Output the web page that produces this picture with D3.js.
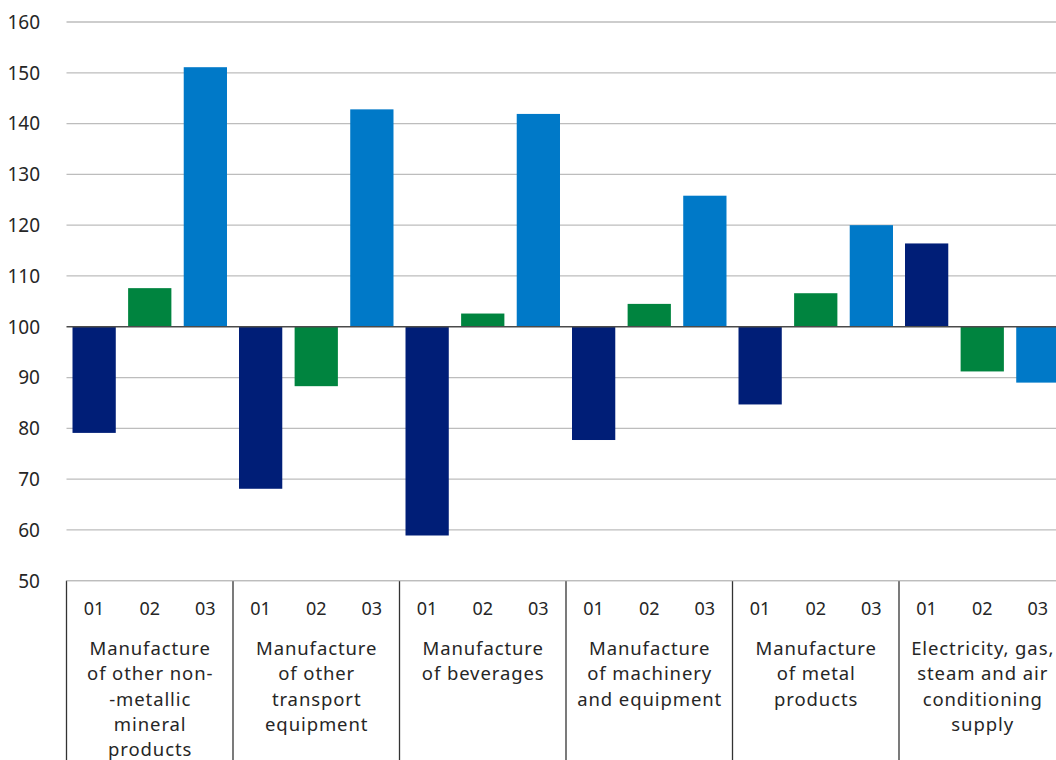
<!DOCTYPE html>
<html>
<head>
<meta charset="utf-8">
<script src="https://cdn.jsdelivr.net/npm/d3@7"></script>
<style>
  html, body { margin: 0; padding: 0; background: #fff; }
  svg { display: block; }
  text { font-family: "Noto Sans", "Open Sans", sans-serif; fill: #262626; }
</style>
</head>
<body>
<svg id="chart" width="1056" height="760"></svg>
<script>
// data
const categories = [
    ['Manufacture', 'of other non-', '-metallic', 'mineral', 'products'],
    ['Manufacture', 'of other', 'transport', 'equipment'],
    ['Manufacture', 'of beverages'],
    ['Manufacture', 'of machinery', 'and equipment'],
    ['Manufacture', 'of metal', 'products'],
    ['Electricity, gas,', 'steam and air', 'conditioning', 'supply']
]
const periods = ['01', '02', '03']
const values01 = [79.1, 68.1, 58.9, 77.7, 84.7, 116.4]
const values02 = [107.6, 88.3, 102.6, 104.5, 106.6, 91.2]
const values03 = [151.1, 142.8, 141.9, 125.8, 120.0, 89.0]
const yTicks = [50, 60, 70, 80, 90, 100, 110, 120, 130, 140, 150, 160]
const baseValue = 100

const colors = { '01': '#001e77', '02': '#00843f', '03': '#0079c8' }

const svg = d3.select('#chart')
const plotLeft = 66.5
const groupWidth = 166.5
const plotTop = 22
const plotBottom = 580.7

const x0 = d3.scaleBand()
    .domain(d3.range(categories.length))
    .range([plotLeft, plotLeft + groupWidth * categories.length])
    .padding(0)

const x1 = d3.scaleBand()
    .domain(periods)
    .range([0, x0.bandwidth()])
    .paddingInner(0.222)
    .paddingOuter(0.108)

const y = d3.scaleLinear().domain([50, 160]).range([plotBottom, plotTop])

const rows = []
categories.forEach((c, i) => {
    rows.push({ cat: i, period: '01', value: values01[i] })
    rows.push({ cat: i, period: '02', value: values02[i] })
    rows.push({ cat: i, period: '03', value: values03[i] })
})

// gridlines
const grid = svg.append('g').attr('class', 'grid')
grid.selectAll('line')
    .data(yTicks.filter(d => d !== baseValue))
    .join('line')
    .attr('x1', plotLeft)
    .attr('x2', 1056)
    .attr('y1', d => y(d))
    .attr('y2', d => y(d))
    .attr('stroke', '#bdbdbd')
    .attr('stroke-width', 1.3)

// y labels
svg.append('g')
    .selectAll('text')
    .data(yTicks)
    .join('text')
    .attr('x', 40)
    .attr('y', d => y(d))
    .attr('dy', '0.36em')
    .attr('text-anchor', 'end')
    .style('font-size', '19px')
    .text(d => d)

// bars
svg.append('g').attr('class', 'bars')
    .selectAll('rect')
    .data(rows)
    .join('rect')
    .attr('x', d => x0(d.cat) + x1(d.period))
    .attr('width', x1.bandwidth())
    .attr('y', d => Math.min(y(d.value), y(baseValue)))
    .attr('height', d => Math.abs(y(d.value) - y(baseValue)))
    .attr('fill', d => colors[d.period])

// base line at 100
svg.append('line')
    .attr('x1', plotLeft)
    .attr('x2', 1056)
    .attr('y1', y(baseValue))
    .attr('y2', y(baseValue))
    .attr('stroke', '#4a4a4a')
    .attr('stroke-width', 1.5)

// category axis separators
const axis = svg.append('g').attr('class', 'x-axis')
axis.selectAll('line.sep')
    .data(d3.range(categories.length + 1))
    .join('line')
    .attr('class', 'sep')
    .attr('x1', d => plotLeft + d * groupWidth)
    .attr('x2', d => plotLeft + d * groupWidth)
    .attr('y1', plotBottom)
    .attr('y2', 760)
    .attr('stroke', '#333')
    .attr('stroke-width', 1.3)

// period labels
axis.selectAll('text.period')
    .data(rows)
    .join('text')
    .attr('class', 'period')
    .attr('x', d => x0(d.cat) + x1(d.period) + x1.bandwidth() / 2)
    .attr('y', 615)
    .attr('text-anchor', 'middle')
    .style('font-size', '18px')
    .text(d => d.period)

// category labels
const catLabels = axis.selectAll('text.cat')
    .data(categories)
    .join('text')
    .attr('class', 'cat')
    .attr('text-anchor', 'middle')
    .style('font-size', '18.5px')
    .style('letter-spacing', '0.9px')

catLabels.selectAll('tspan')
    .data((d, i) => d.map(line => ({ line: line, cat: i })))
    .join('tspan')
    .attr('x', d => x0(d.cat) + x0.bandwidth() / 2 + 0.45)
    .attr('y', (d, j) => 655 + j * 25.3)
    .text(d => d.line)

// bottom line
svg.append('line')
    .attr('x1', plotLeft)
    .attr('x2', 1056)
    .attr('y1', plotBottom)
    .attr('y2', plotBottom)
    .attr('stroke', '#bdbdbd')
    .attr('stroke-width', 1.3)
</script>
</body>
</html>
